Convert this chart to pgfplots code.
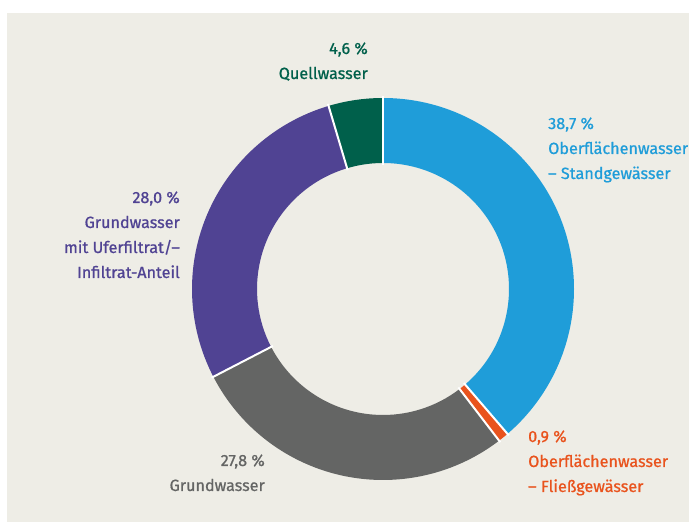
\documentclass[border=0pt]{standalone}
\usepackage{pgfplots}
\pgfplotsset{compat=1.18}
\usepackage{pgfplotstable}
\usepackage{fontspec}
\setmainfont{Fira Sans}
\newfontfamily\lblfont{Fira Sans}[FakeBold=0.8]
\definecolor{bg}{HTML}{EEEDE6}
\definecolor{cblue}{HTML}{1F9DD9}
\definecolor{corange}{HTML}{E9531D}
\definecolor{cgray}{HTML}{646564}
\definecolor{cpurple}{HTML}{504393}
\definecolor{cgreen}{HTML}{00604B}
\pgfplotstableread{
value color
38.7 cblue
0.9 corange
27.8 cgray
28.0 cpurple
4.6 cgreen
}\slices
\pgfplotstablegetrowsof{\slices}
\pgfmathtruncatemacro\N{\pgfplotsretval-1}
\begin{document}
\begin{tikzpicture}
\fill[white] (0,0) rectangle (689pt,522pt);
\fill[bg] (7pt,0) rectangle (689pt,509pt);
\begin{axis}[x=1pt,y=1pt,xmin=0,xmax=689,ymin=0,ymax=522,hide axis,scale only axis,clip=false,
  at={(0,0)},anchor=origin]
\def\cum{0}
\pgfplotsforeachungrouped \i in {0,...,\N}{%
  \pgfplotstablegetelem{\i}{value}\of\slices \let\v\pgfplotsretval
  \pgfplotstablegetelem{\i}{color}\of\slices \let\c\pgfplotsretval
  \pgfmathsetmacro\a{90-3.6*\cum}%
  \pgfmathsetmacro\b{90-3.6*(\cum+\v)}%
  \edef\temp{\noexpand\fill[\c] ([shift={(\a:191pt)}]axis cs:383,233) arc[start angle=\a, end angle=\b, radius=191pt]
     -- ([shift={(\b:126pt)}]axis cs:383,233) arc[start angle=\b, end angle=\a, radius=126pt] -- cycle;}%
  \temp
  \pgfmathsetmacro\cum{\cum+\v}%
}
\def\cum{0}
\pgfplotsforeachungrouped \i in {0,...,\N}{%
  \pgfplotstablegetelem{\i}{value}\of\slices \let\v\pgfplotsretval
  \pgfmathsetmacro\a{90-3.6*\cum}%
  \edef\temp{\noexpand\draw[white,line width=2pt] ([shift={(\a:124pt)}]axis cs:383,233) -- ([shift={(\a:193pt)}]axis cs:383,233);}%
  \temp
  \pgfmathsetmacro\cum{\cum+\v}%
}
\tikzset{lbl/.style={font=\lblfont\fontsize{16.2}{25}\selectfont,inner sep=0pt}}
\node[lbl,text=cgreen,align=right,anchor=base east] at (axis cs:368,443) {4,6 \%\\Quellwasser};
\node[lbl,text=cblue,align=left,anchor=base west] at (axis cs:548,343) {38,7 \%\\Oberflächenwasser\\– Standgewässer};
\node[lbl,text=cpurple,align=right,anchor=base east] at (axis cs:180,244) {28,0 \%\\Grundwasser\\mit Uferfiltrat/–\\Infiltrat-Anteil};
\node[lbl,text=corange,align=left,anchor=base west] at (axis cs:528,30) {0,9 \%\\Oberflächenwasser\\– Fließgewässer};
\node[lbl,text=cgray,align=right,anchor=base east] at (axis cs:265,31) {27,8 \%\\Grundwasser};
\end{axis}
\end{tikzpicture}
\end{document}
